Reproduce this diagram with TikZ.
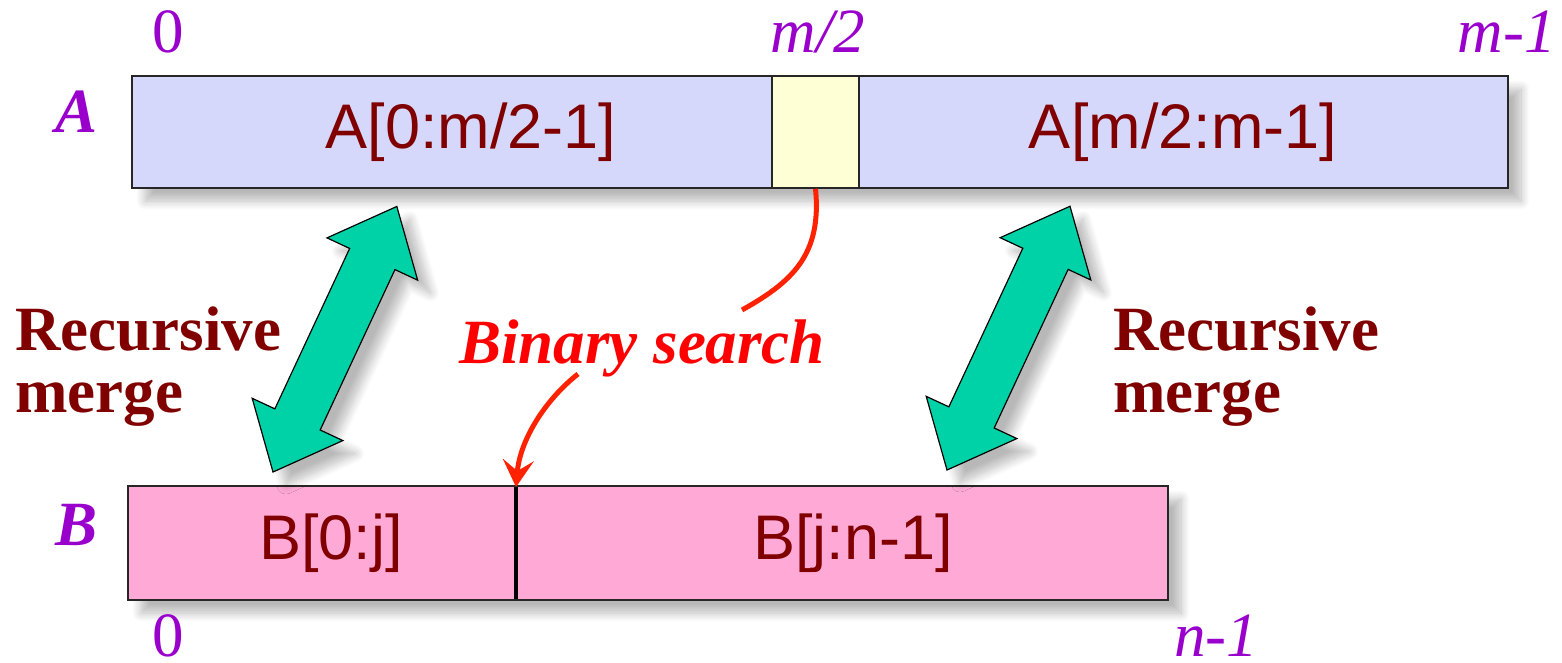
\documentclass[tikz,border=0pt]{standalone}
\usepackage{fontspec}
\setmainfont{Liberation Serif}
\newfontfamily\arialfont{Liberation Sans}
\usetikzlibrary{arrows.meta,shadows.blur}
\definecolor{arrA}{HTML}{D6D8FB}
\definecolor{midcell}{HTML}{FFFFD6}
\definecolor{arrB}{HTML}{FFAAD6}
\definecolor{idxpurple}{HTML}{9900CC}
\definecolor{darkred}{HTML}{800000}
\definecolor{mergegreen}{HTML}{00D2A8}
\definecolor{searchred}{HTML}{FF2200}
\tikzset{
  x=1pt, y=1pt,
  softshadow/.style={blur shadow={shadow xshift=13pt, shadow yshift=-13pt,
      shadow blur radius=9pt, shadow blur steps=12, shadow opacity=28}},
  arraybox/.style={draw=black!85, line width=1.6pt, inner sep=0pt, rectangle},
  celltext/.style={font=\fontsize{63}{60}\selectfont\arialfont, text=darkred, inner sep=0pt},
  idx/.style={font=\fontsize{63}{60}\selectfont, text=idxpurple, inner sep=0pt},
  idxit/.style={font=\fontsize{63}{60}\selectfont\itshape, text=idxpurple, inner sep=0pt},
  arrname/.style={font=\fontsize{63}{60}\selectfont\bfseries\itshape, text=idxpurple, inner sep=0pt},
  mergetext/.style={font=\fontsize{63}{62}\selectfont\bfseries, text=darkred, inner sep=0pt,
      align=left},
  searchtext/.style={font=\fontsize{63}{60}\selectfont\bfseries\itshape, text=red, inner sep=0pt},
  mergearrow/.style={fill=mergegreen, draw=black, line width=1.2pt, line join=miter, softshadow},
  searcharrow/.style={draw=searchred, line width=5pt,
      -{Stealth[length=27pt, width=31pt, inset=11pt]}},
}
% double-headed block arrow along the local x axis, length #1
\newcommand{\blockarrow}[1]{%
  \path[mergearrow] (0,0) -- (58,50) -- (58,25) -- (#1-58,25) -- (#1-58,50)
    -- (#1,0) -- (#1-58,-50) -- (#1-58,-25) -- (58,-25) -- (58,-50) -- cycle;}
\begin{document}
\begin{tikzpicture}
\useasboundingbox (0,0) rectangle (1562,-663);

% array A with its middle element
\node[arraybox, fill=arrA, softshadow, minimum width=1376pt, minimum height=112pt]
  (A) at (820,-132) {};
\node[arraybox, fill=midcell, minimum width=87pt, minimum height=112pt]
  (mid) at (815.5,-132) {};
\node[celltext] (Alo) at (471,-132) {A[0:m/2-1]};
\node[celltext] (Ahi) at (1183,-132) {A[m/2:m-1]};

% array B split at position j
\node[arraybox, fill=arrB, softshadow, minimum width=1040pt, minimum height=114pt]
  (B) at (648,-543) {};
\coordinate (jtop) at (516,-487);
\coordinate (jbot) at (516,-599);
\draw[line width=3.6pt, black] (jtop) -- (jbot);
\node[celltext] (Blo) at (331,-543) {B[0:j]};
\node[celltext] (Bhi) at (853,-543) {B[j:n-1]};

% indices and array names
\node[idx, anchor=base] (a0) at (168,-53) {0};
\node[idxit, anchor=base] (am) at (818,-53) {m/2};
\node[idxit, anchor=base east] (aend) at (1556,-53) {m-1};
\node[arrname, anchor=base east] (Aname) at (98,-133) {A};
\node[arrname, anchor=base east] (Bname) at (98,-545) {B};
\node[idx, anchor=base] (b0) at (168,-656) {0};
\node[idxit, anchor=base west] (bend) at (1174,-656) {n-1};

% recursive merges
\begin{scope}[shift={(273,-472)}, rotate=65]
  \blockarrow{293}
\end{scope}
\begin{scope}[shift={(947,-470)}, rotate=65]
  \blockarrow{291}
\end{scope}
\node[mergetext, anchor=base west] (mleft) at (15,-412) {Recursive\\merge};
\node[mergetext, anchor=base west] (mright) at (1113,-412) {Recursive\\merge};

% binary search for the split point
\node[searchtext, anchor=base west] (bs) at (459,-363) {Binary search};
\coordinate (bsin) at (742,-310);
\coordinate (bsout) at (578,-374);
\draw[draw=searchred, line width=5pt] (mid.south) .. controls (822,-255) and (792,-282) .. (bsin);
\draw[searcharrow] (bsout) .. controls (545,-400) and (520,-440) .. (jtop);
\end{tikzpicture}
\end{document}
